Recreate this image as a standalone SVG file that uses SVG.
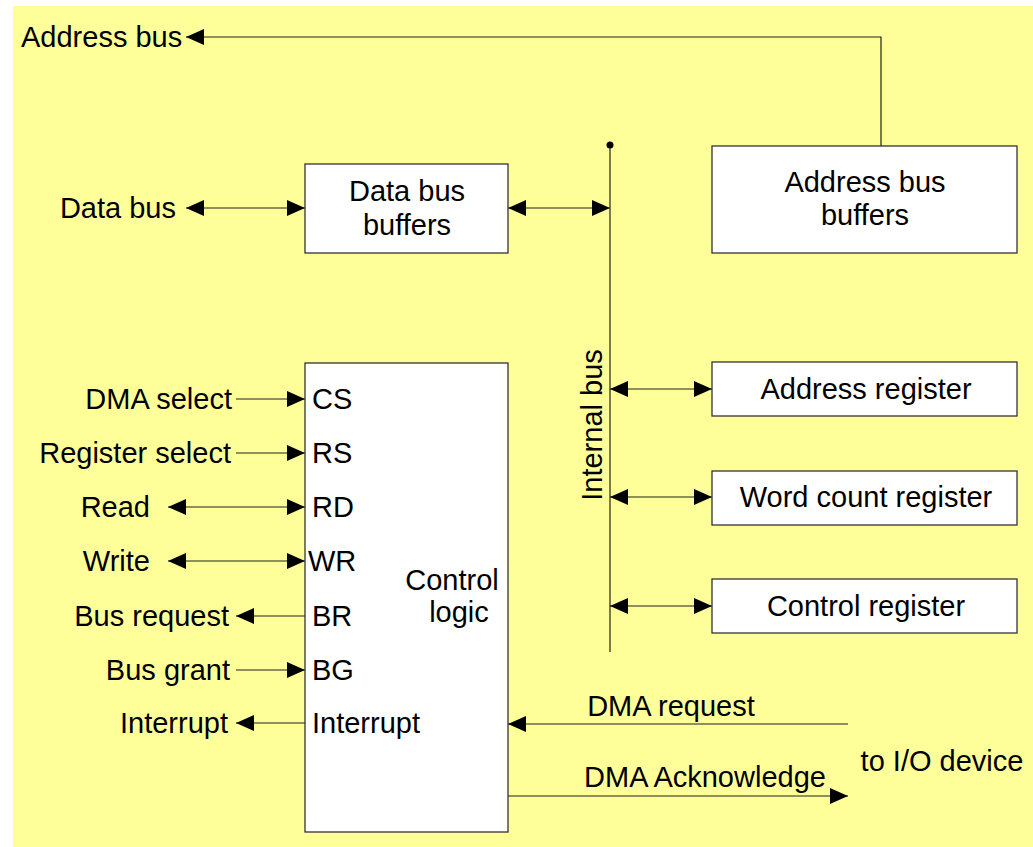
<svg xmlns="http://www.w3.org/2000/svg" width="1033" height="847" viewBox="0 0 1033 847">
<style>
text{font-family:"Liberation Sans",Arial,sans-serif;font-size:29px;fill:#000}
.c{text-anchor:middle}
.r{text-anchor:end}
.box{fill:#fff;stroke:#333;stroke-width:1.3}
.ln{fill:none;stroke:#222;stroke-width:1.2}
.a2{marker-start:url(#ah);marker-end:url(#ah)}
.a1{marker-end:url(#ah)}
</style>
<defs>
<marker id="ah" markerUnits="userSpaceOnUse" markerWidth="20" markerHeight="16" viewBox="0 0 20 16" refX="18" refY="8" orient="auto-start-reverse">
<path d="M0,0 L18,8 L0,16 Z" fill="#000"/>
</marker>
</defs>
<rect x="0" y="0" width="1033" height="847" fill="#fff"/>
<rect x="13" y="6" width="1020" height="841" fill="#FFFF99"/>

<g id="connectors">
<path class="ln a1" d="M881,146 V37 H186"/>
<line class="ln a2" x1="186" y1="208" x2="305" y2="208"/>
<line class="ln a2" x1="508" y1="208" x2="610" y2="208"/>
<line class="ln" x1="610" y1="145" x2="610" y2="652"/>
<circle cx="610" cy="145" r="3.5" fill="#000"/>
<line class="ln a2" x1="610" y1="389" x2="712" y2="389"/>
<line class="ln a2" x1="610" y1="497" x2="712" y2="497"/>
<line class="ln a2" x1="610" y1="606" x2="712" y2="606"/>
<line class="ln a1" x1="236" y1="399" x2="305" y2="399"/>
<line class="ln a1" x1="236" y1="453" x2="305" y2="453"/>
<line class="ln a2" x1="168" y1="507" x2="305" y2="507"/>
<line class="ln a2" x1="168" y1="561" x2="305" y2="561"/>
<line class="ln a1" x1="305" y1="616" x2="236" y2="616"/>
<line class="ln a1" x1="236" y1="670" x2="305" y2="670"/>
<line class="ln a1" x1="305" y1="723" x2="236" y2="723"/>
<line class="ln a1" x1="848" y1="724" x2="508" y2="724"/>
<line class="ln a1" x1="508" y1="796" x2="848" y2="796"/>
</g>

<g id="labels">
<text x="21" y="47">Address bus</text>
<text x="176" y="218" class="r">Data bus</text>
<text x="232" y="409" class="r">DMA select</text>
<text x="231" y="463" class="r">Register select</text>
<text x="150" y="517" class="r">Read</text>
<text x="150" y="571" class="r">Write</text>
<text x="229" y="626" class="r">Bus request</text>
<text x="230" y="680" class="r">Bus grant</text>
<text x="228" y="733" class="r">Interrupt</text>
<text x="671" y="716" class="c">DMA request</text>
<text x="705" y="787" class="c">DMA Acknowledge</text>
<text x="942" y="771" class="c">to I/O device</text>
<text transform="translate(602,425) rotate(-90)" class="c">Internal bus</text>
</g>

<g id="address-bus-buffers">
<rect class="box" x="712" y="146" width="305" height="107"/>
<text x="865" y="192" class="c">Address bus</text>
<text x="865" y="225" class="c">buffers</text>
</g>
<g id="data-bus-buffers">
<rect class="box" x="305" y="164" width="203" height="89"/>
<text x="407" y="201" class="c">Data bus</text>
<text x="407" y="235" class="c">buffers</text>
</g>
<g id="address-register">
<rect class="box" x="712" y="362" width="305" height="54"/>
<text x="866" y="399" class="c">Address register</text>
</g>
<g id="word-count-register">
<rect class="box" x="712" y="471" width="305" height="54"/>
<text x="866" y="507" class="c">Word count register</text>
</g>
<g id="control-register">
<rect class="box" x="712" y="579" width="305" height="54"/>
<text x="866" y="616" class="c">Control register</text>
</g>
<g id="control-logic">
<rect class="box" x="305" y="363" width="203" height="469"/>
<text x="312" y="409">CS</text>
<text x="312" y="463">RS</text>
<text x="312" y="517">RD</text>
<text x="308" y="571">WR</text>
<text x="312" y="626">BR</text>
<text x="312" y="680">BG</text>
<text x="312" y="733">Interrupt</text>
<text x="452" y="590" class="c">Control</text>
<text x="459" y="622" class="c">logic</text>
</g>
</svg>
